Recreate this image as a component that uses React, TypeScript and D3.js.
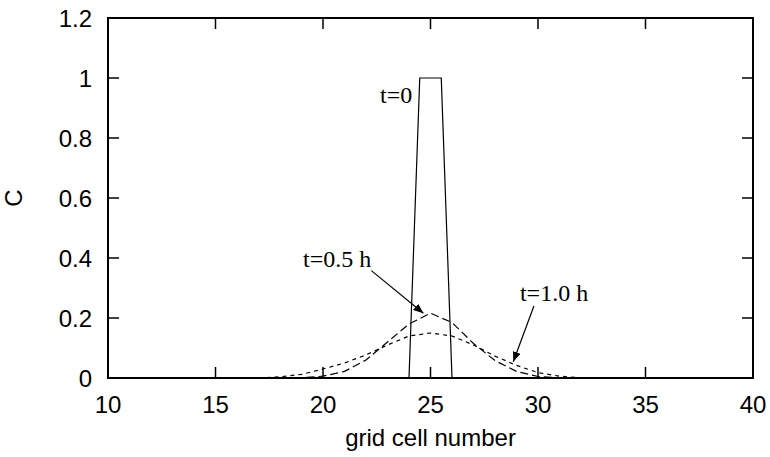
import React from "react";
import * as d3 from "d3";

const cellsT0 = [24, 24.5, 25.5, 26];
const valuesT0 = [0, 1, 1, 0];

const cellsT05 = [17, 18, 19, 20, 21, 22, 23, 24, 25, 26, 27, 28, 29, 30, 31, 32, 33];
const valuesT05 = [0, 0.0, 0.001, 0.006, 0.022, 0.06, 0.12, 0.18, 0.216, 0.185, 0.115, 0.058, 0.022, 0.005, 0.001, 0, 0];

const cellsT10 = [17, 18, 19, 20, 21, 22, 23, 24, 25, 26, 27, 28, 29, 30, 31, 32, 33];
const valuesT10 = [0, 0.004, 0.012, 0.03, 0.05, 0.077, 0.11, 0.14, 0.15, 0.14, 0.11, 0.073, 0.042, 0.018, 0.006, 0.001, 0];

const xTicks = [10, 15, 20, 25, 30, 35, 40];
const yTicks = [0, 0.2, 0.4, 0.6, 0.8, 1, 1.2];
const yTickLabels = ["0", "0.2", "0.4", "0.6", "0.8", "1", "1.2"];

const W = 770;
const H = 457;
const sans = "'Liberation Sans', Arial, sans-serif";
const serif = "'Liberation Serif', 'Times New Roman', serif";

export default function App() {
  const x = d3.scaleLinear().domain([10, 40]).range([108, 753]);
  const y = d3.scaleLinear().domain([0, 1.2]).range([378, 18]);
  const line = d3
    .line<[number, number]>()
    .x((d) => x(d[0]))
    .y((d) => y(d[1]));
  const zip = (a: number[], b: number[]) => a.map((v, i) => [v, b[i]] as [number, number]);
  const tick = 11;

  const annotations = [
    { text: "t=0", x: 22.65, y: 0.917 },
    { text: "t=0.5 h", x: 19.07, y: 0.37 },
    { text: "t=1.0 h", x: 29.16, y: 0.257 },
  ];
  const arrows = [
    { x1: 22.25, y1: 0.358, x2: 24.67, y2: 0.216 },
    { x1: 29.81, y1: 0.24, x2: 28.85, y2: 0.054 },
  ];

  return (
    <svg
      width={W}
      height={H}
      style={{ position: "absolute", left: 0, top: 0, background: "#fff" }}
    >
      <defs>
        <marker
          id="ah"
          viewBox="0 0 10 8"
          refX={10}
          refY={4}
          markerWidth={10}
          markerHeight={8}
          markerUnits="userSpaceOnUse"
          orient="auto"
        >
          <path d="M0,0 L10,4 L0,8 z" fill="#000" />
        </marker>
      </defs>

      {/* ticks on all sides */}
      {xTicks.slice(1, -1).map((t) => (
        <g key={"xt" + t} stroke="#000" strokeWidth={1.5}>
          <line x1={x(t)} x2={x(t)} y1={y(0)} y2={y(0) - tick} />
          <line x1={x(t)} x2={x(t)} y1={y(1.2)} y2={y(1.2) + tick} />
        </g>
      ))}
      {yTicks.slice(1, -1).map((t) => (
        <g key={"yt" + t} stroke="#000" strokeWidth={1.5}>
          <line x1={x(10)} x2={x(10) + tick} y1={y(t)} y2={y(t)} />
          <line x1={x(40)} x2={x(40) - tick} y1={y(t)} y2={y(t)} />
        </g>
      ))}

      {/* data */}
      <path d={line(zip(cellsT0, valuesT0)) || ""} fill="none" stroke="#000" strokeWidth={1.2} />
      <path
        d={line(zip(cellsT05, valuesT05)) || ""}
        fill="none"
        stroke="#000"
        strokeWidth={1.2}
        strokeDasharray="8,4"
      />
      <path
        d={line(zip(cellsT10, valuesT10)) || ""}
        fill="none"
        stroke="#000"
        strokeWidth={1.2}
        strokeDasharray="4,4"
      />

      {/* frame */}
      <rect
        x={x(10)}
        y={y(1.2)}
        width={x(40) - x(10)}
        height={y(0) - y(1.2)}
        fill="none"
        stroke="#000"
        strokeWidth={2}
      />

      {/* tick labels */}
      {xTicks.map((t) => (
        <text
          key={"xl" + t}
          x={x(t)}
          y={413}
          textAnchor="middle"
          fontFamily={sans}
          fontSize={24}
          fill="#000"
        >
          {t}
        </text>
      ))}
      {yTicks.map((t, i) => (
        <text
          key={"yl" + t}
          x={92}
          y={y(t)}
          dy="0.36em"
          textAnchor="end"
          fontFamily={sans}
          fontSize={24}
          fill="#000"
        >
          {yTickLabels[i]}
        </text>
      ))}

      {/* axis titles */}
      <text
        x={(x(10) + x(40)) / 2}
        y={446}
        textAnchor="middle"
        fontFamily={sans}
        fontSize={24}
        fill="#000"
      >
        grid cell number
      </text>
      <text
        transform={`translate(22, ${(y(0) + y(1.2)) / 2}) rotate(-90)`}
        textAnchor="middle"
        fontFamily={sans}
        fontSize={24}
        fill="#000"
      >
        C
      </text>

      {/* annotations */}
      {annotations.map((a) => (
        <text
          key={a.text}
          x={x(a.x)}
          y={y(a.y)}
          fontFamily={serif}
          fontSize={24}
          fill="#000"
        >
          {a.text}
        </text>
      ))}
      {arrows.map((a, i) => (
        <line
          key={"ar" + i}
          x1={x(a.x1)}
          y1={y(a.y1)}
          x2={x(a.x2)}
          y2={y(a.y2)}
          stroke="#000"
          strokeWidth={1.2}
          markerEnd="url(#ah)"
        />
      ))}
    </svg>
  );
}
